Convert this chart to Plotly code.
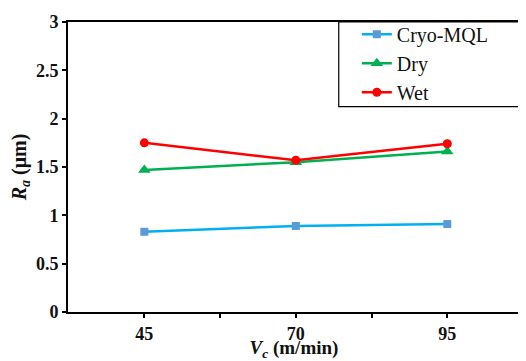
import plotly.graph_objects as go

speeds = [45, 70, 95]
cryo_mql = [0.83, 0.89, 0.91]
dry = [1.47, 1.55, 1.66]
wet = [1.75, 1.57, 1.74]

minor_ticks = [(a + b) / 2 for a, b in zip(speeds, speeds[1:])]

FONT = "Times New Roman"

fig = go.Figure()
fig.add_trace(go.Scatter(
    x=speeds, y=cryo_mql, name="Cryo-MQL", mode="lines+markers",
    line=dict(color="#00B0F0", width=2.5),
    marker=dict(symbol="square", size=8, color="#5B9BD5")))
fig.add_trace(go.Scatter(
    x=speeds, y=dry, name="Dry", mode="lines+markers",
    line=dict(color="#00B050", width=2.5),
    marker=dict(symbol="triangle-up", size=11, color="#00B050")))
fig.add_trace(go.Scatter(
    x=speeds, y=wet, name="Wet", mode="lines+markers",
    line=dict(color="#FF0000", width=2.5),
    marker=dict(symbol="circle", size=9, color="#FF0000")))

fig.update_layout(
    width=518, height=353,
    margin=dict(l=60, r=4, t=14, b=40),
    paper_bgcolor="white", plot_bgcolor="white",
    font=dict(family=FONT, size=18, color="#111111"),
    legend=dict(x=0.639, y=1.025, xanchor="left", yanchor="top",
                bgcolor="rgba(0,0,0,0)", borderwidth=0,
                font=dict(family=FONT, size=20)),
    xaxis=dict(range=[32.4, 107], tickvals=speeds,
               minor=dict(tickvals=minor_ticks, ticks="outside", ticklen=4,
                          tickwidth=2, tickcolor="black", showgrid=False),
               showline=True, mirror=True, linecolor="black", linewidth=2,
               ticks="outside", ticklen=4, tickwidth=2, tickcolor="black",
               showgrid=False, zeroline=False,
               tickfont=dict(family=FONT, size=18, weight="bold"),
               title=dict(text="<b><i>V</i><sub><i>c</i></sub> (m/min)</b>",
                          font=dict(family=FONT, size=19),
                          standoff=0)),
    yaxis=dict(range=[0, 3], dtick=0.5,
               showline=True, mirror=True, linecolor="black", linewidth=2,
               ticks="outside", ticklen=4, tickwidth=2, tickcolor="black",
               showgrid=False, zeroline=False,
               tickfont=dict(family=FONT, size=18, weight="bold"),
               title=dict(text="<b><i>R</i><sub><i>a</i></sub> (μm)</b>",
                          font=dict(family=FONT, size=20),
                          standoff=4)),
    shapes=[dict(type="rect", xref="paper", yref="paper",
                 x0=0.599, x1=1.0, y0=0.708, y1=1.0,
                 line=dict(color="black", width=1.2), fillcolor="rgba(0,0,0,0)",
                 layer="above")],
)

fig.write_html("out.html")
